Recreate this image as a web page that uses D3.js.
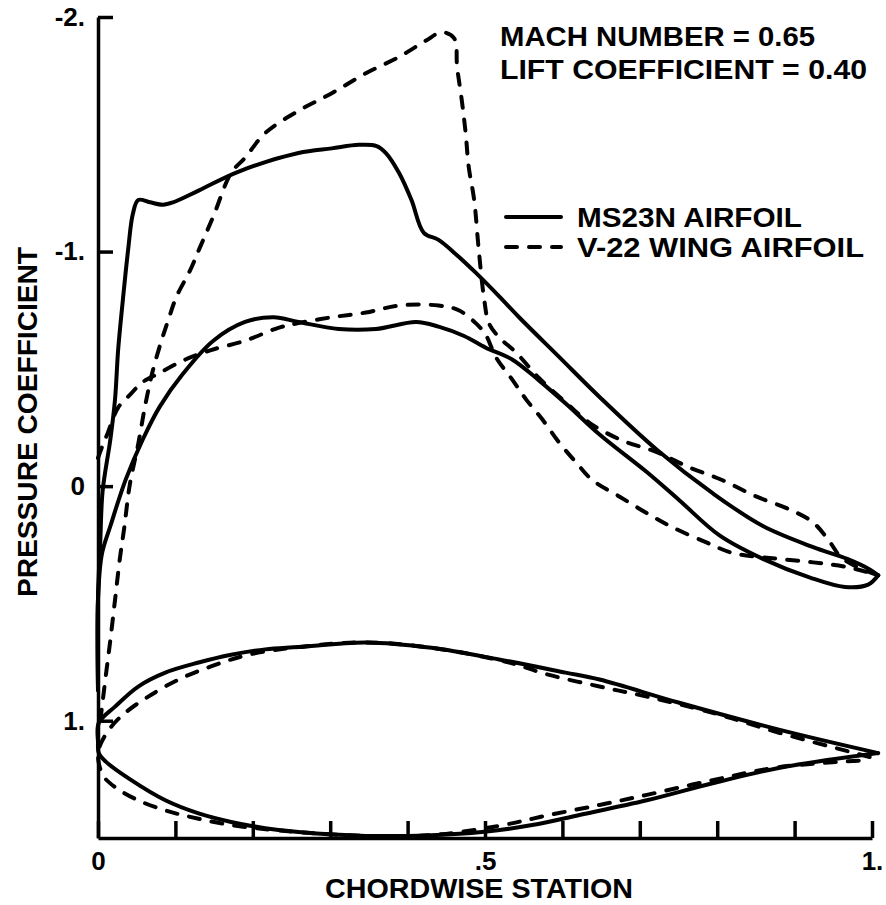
<!DOCTYPE html>
<html>
<head>
<meta charset="utf-8">
<script src="https://cdn.jsdelivr.net/npm/d3@7"></script>
<style>
  body { margin: 0; background: #fff; }
  svg text { font-family: "Liberation Sans", Arial, Helvetica, sans-serif; font-weight: bold; fill: #000; }
</style>
</head>
<body>
<div id="chart"></div>
<script>
// axis ticks
var xTickValues = [0, 0.1, 0.2, 0.3, 0.4, 0.5, 0.6, 0.7, 0.8, 0.9, 1.0];
var xTickLabels = ["0", "", "", "", "", ".5", "", "", "", "", "1."];
var yTickValues = [-2, -1, 0, 1];
var yTickLabels = ["-2.", "-1.", "0", "1."];

// pressure distributions [chordwise station, Cp]
var ms23nUpperCp = [[0,0.87],[0,0.48],[0.003,0.23],[0.006,0.02],[0.016,-0.20],[0.022,-0.37],[0.026,-0.58],
  [0.032,-0.79],[0.039,-1.01],[0.045,-1.16],[0.052,-1.22],[0.067,-1.21],[0.084,-1.20],[0.097,-1.21],
  [0.130,-1.26],[0.181,-1.34],[0.259,-1.42],[0.302,-1.44],[0.337,-1.455],[0.360,-1.45],[0.372,-1.42],
  [0.389,-1.335],[0.405,-1.22],[0.421,-1.08],[0.440,-1.05],[0.462,-0.99],[0.488,-0.91],[0.518,-0.81],
  [0.544,-0.72],[0.596,-0.55],[0.648,-0.38],[0.722,-0.155],[0.794,0.03],[0.859,0.17],[0.924,0.26],
  [0.968,0.31],[0.997,0.355],[1.008,0.38]];
var ms23nLowerCp = [[0,0.87],[0,0.48],[0.005,0.29],[0.016,0.17],[0.036,-0.03],[0.058,-0.20],[0.080,-0.34],
  [0.110,-0.48],[0.149,-0.62],[0.190,-0.70],[0.227,-0.72],[0.259,-0.70],[0.311,-0.67],[0.359,-0.67],
  [0.411,-0.70],[0.440,-0.68],[0.473,-0.64],[0.501,-0.59],[0.535,-0.54],[0.570,-0.45],[0.605,-0.35],
  [0.648,-0.22],[0.709,-0.06],[0.751,0.06],[0.803,0.21],[0.859,0.31],[0.920,0.39],[0.965,0.43],
  [0.995,0.42],[1.008,0.38]];
var v22UpperCp = [[0.003,1.0],[0.010,0.81],[0.016,0.655],[0.022,0.485],[0.028,0.315],[0.034,0.175],
  [0.041,-0.005],[0.052,-0.18],[0.061,-0.345],[0.071,-0.495],[0.082,-0.62],[0.091,-0.71],[0.101,-0.805],
  [0.119,-0.92],[0.132,-1.02],[0.149,-1.15],[0.172,-1.335],[0.190,-1.40],[0.216,-1.505],[0.259,-1.60],
  [0.302,-1.675],[0.346,-1.76],[0.389,-1.83],[0.424,-1.90],[0.444,-1.935],[0.460,-1.91],[0.464,-1.785],
  [0.470,-1.645],[0.475,-1.505],[0.479,-1.36],[0.486,-1.22],[0.492,-1.005],[0.499,-0.795],[0.505,-0.695],
  [0.518,-0.635],[0.540,-0.57],[0.570,-0.46],[0.605,-0.355],[0.635,-0.27],[0.677,-0.195],[0.722,-0.145],
  [0.764,-0.08],[0.807,-0.025],[0.851,0.045],[0.894,0.10],[0.924,0.155],[0.946,0.24],[0.959,0.30],
  [0.981,0.345],[1.008,0.38]];
var v22LowerCp = [[0,-0.12],[0.005,-0.165],[0.013,-0.23],[0.026,-0.335],[0.043,-0.395],[0.056,-0.44],
  [0.078,-0.48],[0.113,-0.54],[0.146,-0.58],[0.190,-0.62],[0.233,-0.675],[0.259,-0.695],[0.302,-0.72],
  [0.346,-0.74],[0.389,-0.77],[0.440,-0.77],[0.466,-0.75],[0.488,-0.695],[0.501,-0.645],[0.514,-0.55],
  [0.535,-0.455],[0.553,-0.37],[0.574,-0.285],[0.596,-0.185],[0.618,-0.10],[0.639,-0.025],[0.674,0.045],
  [0.709,0.115],[0.742,0.175],[0.786,0.24],[0.820,0.285],[0.864,0.305],[0.924,0.325],[0.968,0.345],
  [1.008,0.38]];

// airfoil sections [x/c, z/c]
var ms23nUpperZ = [[0,0.01],[0.001,0.035],[0.022,0.056],[0.052,0.082],[0.087,0.100],[0.130,0.113],
  [0.172,0.123],[0.216,0.130],[0.259,0.133],[0.346,0.139],[0.431,0.132],[0.518,0.117],[0.604,0.100],
  [0.648,0.091],[0.751,0.061],[0.881,0.026],[1.008,-0.004]];
var ms23nLowerZ = [[0,0.01],[0.001,-0.004],[0.010,-0.015],[0.043,-0.039],[0.087,-0.065],[0.130,-0.082],
  [0.172,-0.093],[0.216,-0.101],[0.259,-0.106],[0.346,-0.111],[0.431,-0.110],[0.496,-0.106],[0.561,-0.097],
  [0.622,-0.084],[0.709,-0.065],[0.794,-0.043],[0.881,-0.023],[1.008,-0.004]];
var v22UpperZ = [[0,-0.006],[0.004,0.009],[0.017,0.030],[0.035,0.048],[0.065,0.069],[0.104,0.091],
  [0.146,0.108],[0.194,0.123],[0.259,0.133],[0.346,0.139],[0.431,0.132],[0.527,0.114],[0.583,0.097],
  [0.648,0.082],[0.709,0.069],[0.794,0.048],[0.881,0.022],[0.997,-0.009]];
var v22LowerZ = [[0,-0.006],[0.006,-0.032],[0.022,-0.048],[0.052,-0.065],[0.087,-0.078],[0.113,-0.085],
  [0.172,-0.097],[0.259,-0.106],[0.346,-0.111],[0.431,-0.110],[0.518,-0.098],[0.583,-0.084],[0.648,-0.071],
  [0.709,-0.058],[0.794,-0.039],[0.881,-0.022],[0.997,-0.013]];

var width = 886, height = 905;
var dash = "11,12";

var svg = d3.select("#chart")
  .append("svg")
  .attr("width", width)
  .attr("height", height);

// scales: Cp axis is inverted (suction up), section drawn true to chord scale
var xScale = d3.scaleLinear().domain([0, 1]).range([98, 872]);
var yScale = d3.scaleLinear().domain([-2, 1.5]).range([17, 838]);
var zScale = d3.scaleLinear().domain([0, 0.1]).range([750, 750 - 77.4]);

// axes
var xAxis = d3.axisBottom(xScale)
  .tickValues(xTickValues)
  .tickSizeInner(-17)
  .tickSizeOuter(0)
  .tickPadding(14)
  .tickFormat(function(d, i) { return xTickLabels[i]; });

var yAxis = d3.axisLeft(yScale)
  .tickValues(yTickValues)
  .tickSizeInner(-15)
  .tickSizeOuter(0)
  .tickPadding(13)
  .tickFormat(function(d, i) { return yTickLabels[i]; });

svg.append("g")
  .attr("class", "x axis")
  .attr("transform", "translate(0," + yScale(1.5) + ")")
  .call(xAxis);

svg.append("g")
  .attr("class", "y axis")
  .attr("transform", "translate(" + xScale(0) + ",0)")
  .call(yAxis);

svg.selectAll(".axis path, .axis line")
  .attr("stroke", "#000")
  .attr("stroke-width", 3.5);
svg.selectAll(".axis text")
  .attr("font-size", 26)
  .attr("fill", "#000");

// curves
var cpLine = d3.line()
  .x(function(d) { return xScale(d[0]); })
  .y(function(d) { return yScale(d[1]); })
  .curve(d3.curveCatmullRom.alpha(0.5));

var zLine = d3.line()
  .x(function(d) { return xScale(d[0]); })
  .y(function(d) { return zScale(d[1]); })
  .curve(d3.curveCatmullRom.alpha(0.5));

function contour(upper, lower) {
  return upper.slice().reverse().concat(lower.slice(1));
}

var curves = [
  { gen: cpLine, data: ms23nUpperCp, dashed: false },
  { gen: cpLine, data: ms23nLowerCp, dashed: false },
  { gen: cpLine, data: v22UpperCp, dashed: true },
  { gen: cpLine, data: v22LowerCp, dashed: true },
  { gen: zLine, data: contour(ms23nUpperZ, ms23nLowerZ), dashed: false },
  { gen: zLine, data: contour(v22UpperZ, v22LowerZ), dashed: true }
];

svg.append("g")
  .selectAll("path")
  .data(curves)
  .enter()
  .append("path")
  .attr("d", function(d) { return d.gen(d.data); })
  .attr("fill", "none")
  .attr("stroke", "#000")
  .attr("stroke-width", 4)
  .attr("stroke-linecap", "round")
  .attr("stroke-linejoin", "round")
  .attr("stroke-dasharray", function(d) { return d.dashed ? dash : null; });

// axis titles
svg.append("text")
  .attr("x", 479)
  .attr("y", 898)
  .attr("text-anchor", "middle")
  .attr("font-size", 27)
  .attr("textLength", 308)
  .attr("lengthAdjust", "spacingAndGlyphs")
  .text("CHORDWISE STATION");

svg.append("text")
  .attr("transform", "translate(37,422) rotate(-90)")
  .attr("text-anchor", "middle")
  .attr("font-size", 27)
  .attr("textLength", 350)
  .attr("lengthAdjust", "spacingAndGlyphs")
  .text("PRESSURE COEFFICIENT");

// flow conditions
var notes = [
  { text: "MACH NUMBER = 0.65", y: 46, len: 315 },
  { text: "LIFT COEFFICIENT = 0.40", y: 79, len: 367 }
];
svg.selectAll(".note")
  .data(notes)
  .enter()
  .append("text")
  .attr("class", "note")
  .attr("x", 500)
  .attr("y", function(d) { return d.y; })
  .attr("font-size", 27)
  .attr("textLength", function(d) { return d.len; })
  .attr("lengthAdjust", "spacingAndGlyphs")
  .text(function(d) { return d.text; });

// legend
var legend = [
  { text: "MS23N AIRFOIL", y: 217, len: 225, dashed: false },
  { text: "V-22 WING AIRFOIL", y: 247, len: 287, dashed: true }
];
var lg = svg.selectAll(".legend")
  .data(legend)
  .enter()
  .append("g")
  .attr("class", "legend");

lg.append("line")
  .attr("x1", 506)
  .attr("x2", 561)
  .attr("y1", function(d) { return d.y; })
  .attr("y2", function(d) { return d.y; })
  .attr("stroke", "#000")
  .attr("stroke-width", 4)
  .attr("stroke-linecap", "round")
  .attr("stroke-dasharray", function(d) { return d.dashed ? dash : null; });

lg.append("text")
  .attr("x", 577)
  .attr("y", function(d) { return d.y + 10; })
  .attr("font-size", 27)
  .attr("textLength", function(d) { return d.len; })
  .attr("lengthAdjust", "spacingAndGlyphs")
  .text(function(d) { return d.text; });
</script>
</body>
</html>
